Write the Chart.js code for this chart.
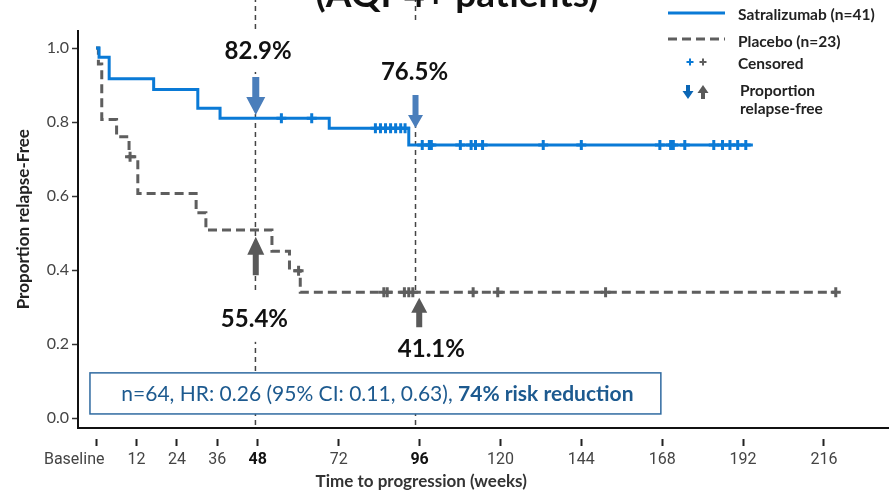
<!DOCTYPE html>
<html>
<head>
<meta charset="utf-8">
<script src="https://cdn.jsdelivr.net/npm/chart.js@4.4.0/dist/chart.umd.min.js"></script>
<style>
  body { margin: 0; background: #fff; }
  #wrap { width: 896px; height: 494px; }
</style>
</head>
<body>
<div id="wrap"><canvas id="km"></canvas></div>
<script>
// Kaplan-Meier steps: week of each drop, proportion after it
var satraWeeks = [0, 0.9, 3.9, 17.1, 30.2, 36.8, 69.2, 92.8, 194.9];
var satraSurv  = [1.0, 0.975, 0.917, 0.888, 0.837, 0.81, 0.783, 0.738, 0.738];
var placeboWeeks = [0, 0.7, 1.7, 6.1, 9.8, 12.4, 29.7, 32.6, 52.2, 57.4, 60.6, 219.5];
var placeboSurv  = [1.0, 0.957, 0.807, 0.76, 0.706, 0.607, 0.555, 0.508, 0.451, 0.398, 0.34, 0.34];

// censored patients (weeks)
var satraCensored = [55, 64, 82.9, 84.4, 85.9, 87.4, 88.9, 90.4, 91.7, 96.8, 98.9, 99.5,
  108.1, 111.3, 112.6, 114.7, 132.7, 144, 167.3, 170.5, 171.3, 174.7, 183.3, 185.9, 188.1, 190.4, 192.8];
var placeboCensored = [10.1, 60.1, 85.4, 86.4, 91.5, 92.8, 94.0, 111.9, 119.2, 151.2, 219.5];

var refWeeks = [47.3, 94.8];
var xTicks = [0, 12, 24, 36, 48, 72, 96, 120, 144, 168, 192, 216];
var yTicks = [0, 0.2, 0.4, 0.6, 0.8, 1.0];

var pctLabels = ['82.9%', '76.5%', '55.4%', '41.1%'];

var BLUE = '#0a7ad6';
var GREY = '#5e5e5e';
var ARROW_BLUE = '#4a7ebb';
var ARROW_GREY = '#595959';

function toPoints(xs, ys) {
  return xs.map(function (x, i) { return { x: x, y: ys[i] }; });
}

// value of the step curve at week t
function survAt(weeks, surv, t) {
  var v = surv[0];
  for (var i = 0; i < weeks.length; i++) {
    if (weeks[i] <= t) v = surv[i];
  }
  return v;
}

function censorPoints(times, weeks, surv) {
  return times.map(function (t) { return { x: t, y: survAt(weeks, surv, t) }; });
}

function refLine(w) {
  return {
    data: [{ x: w, y: -0.019 }, { x: w, y: 1.15 }],
    showLine: true, borderColor: '#444', borderWidth: 1.5, borderDash: [5, 4],
    pointRadius: 0, clip: false
  };
}

// annotations in data coordinates
var labels = [
  { text: pctLabels[0], x: 48.1, y: 0.992, padTop: 10, padBottom: 12 },
  { text: pctLabels[1], x: 94.5, y: 0.934, padTop: 43, padBottom: 14 },
  { text: pctLabels[2], x: 47.0, y: 0.268, padTop: 16, padBottom: 14 },
  { text: pctLabels[3], x: 99.5, y: 0.186, padTop: 50, padBottom: 18 }
];
var arrows = [
  { x: 47.4, from: 0.922, to: 0.819, color: ARROW_BLUE, shaft: 7, head: 19, headLen: 18 },
  { x: 94.8, from: 0.873, to: 0.784, color: ARROW_BLUE, shaft: 6, head: 15, headLen: 13 },
  { x: 47.4, from: 0.386, to: 0.49, color: ARROW_GREY, shaft: 6, head: 17, headLen: 18 },
  { x: 95.9, from: 0.245, to: 0.325, color: ARROW_GREY, shaft: 6, head: 16, headLen: 15 }
];

function drawArrow(ctx, x, y0, y1, shaft, head, headLen, color) {
  var dir = y1 > y0 ? 1 : -1;
  var yb = y1 - dir * headLen;
  ctx.fillStyle = color;
  ctx.beginPath();
  ctx.moveTo(x - shaft / 2, y0);
  ctx.lineTo(x + shaft / 2, y0);
  ctx.lineTo(x + shaft / 2, yb);
  ctx.lineTo(x + head / 2, yb);
  ctx.lineTo(x, y1);
  ctx.lineTo(x - head / 2, yb);
  ctx.lineTo(x - shaft / 2, yb);
  ctx.closePath();
  ctx.fill();
}

function drawPlus(ctx, x, y, r, w, color) {
  ctx.strokeStyle = color;
  ctx.lineWidth = w;
  ctx.beginPath();
  ctx.moveTo(x - r, y); ctx.lineTo(x + r, y);
  ctx.moveTo(x, y - r); ctx.lineTo(x, y + r);
  ctx.stroke();
}

var LABEL_FONT = 'bold 24px Lato';

var overlay = {
  id: 'overlay',
  // white patches go over the dashed reference lines but under the curves
  afterDatasetDraw: function (chart, args) {
    if (args.index !== 4) return;
    var ctx = chart.ctx, xs = chart.scales.x, ys = chart.scales.y;
    ctx.save();
    ctx.font = LABEL_FONT;
    ctx.fillStyle = '#fff';
    labels.forEach(function (l) {
      var px = xs.getPixelForValue(l.x), py = ys.getPixelForValue(l.y);
      var w = ctx.measureText(l.text).width;
      ctx.fillRect(px - w / 2 - 4, py - 9 - l.padTop, w + 8, 18 + l.padTop + l.padBottom);
    });
    ctx.restore();
  },
  afterDatasetsDraw: function (chart) {
    var ctx = chart.ctx, xs = chart.scales.x, ys = chart.scales.y;
    ctx.save();

    // cut-off heading at the very top
    ctx.fillStyle = '#111';
    ctx.font = 'bold 37px Lato';
    ctx.textAlign = 'center';
    ctx.textBaseline = 'alphabetic';
    ctx.fillText('(AQP4+ patients)', 457, 7);

    ctx.font = LABEL_FONT;
    ctx.textBaseline = 'middle';
    ctx.fillStyle = '#111';
    labels.forEach(function (l) {
      ctx.fillText(l.text, xs.getPixelForValue(l.x), ys.getPixelForValue(l.y));
    });

    arrows.forEach(function (a) {
      drawArrow(ctx, xs.getPixelForValue(a.x), ys.getPixelForValue(a.from), ys.getPixelForValue(a.to),
        a.shaft, a.head, a.headLen, a.color);
    });

    // hazard-ratio box
    var bx0 = xs.getPixelForValue(-1.8), bx1 = xs.getPixelForValue(167.6);
    var by0 = ys.getPixelForValue(0.122), by1 = ys.getPixelForValue(0.011);
    ctx.fillStyle = '#fff';
    ctx.fillRect(bx0, by0, bx1 - bx0, by1 - by0);
    ctx.strokeStyle = '#2f6aa0';
    ctx.lineWidth = 1.5;
    ctx.strokeRect(bx0, by0, bx1 - bx0, by1 - by0);
    var t1 = 'n=64, HR: 0.26 (95% CI: 0.11, 0.63), ';
    var t2 = '74% risk reduction';
    ctx.font = '21px Lato';
    var w1 = ctx.measureText(t1).width;
    ctx.font = 'bold 21px Lato';
    var w2 = ctx.measureText(t2).width;
    var sx = (bx0 + bx1) / 2 - (w1 + w2) / 2 + 2, sy = (by0 + by1) / 2 + 1;
    ctx.textAlign = 'left';
    ctx.fillStyle = '#1d5a8f';
    ctx.font = '21px Lato';
    ctx.fillText(t1, sx, sy);
    ctx.font = 'bold 21px Lato';
    ctx.fillText(t2, sx + w1, sy);

    // x axis title
    ctx.fillStyle = '#333';
    ctx.font = 'bold 17px Lato';
    ctx.textAlign = 'center';
    ctx.fillText('Time to progression (weeks)', xs.getPixelForValue(96.5), 482);

    // legend
    ctx.lineWidth = 3;
    ctx.strokeStyle = BLUE;
    ctx.beginPath(); ctx.moveTo(668, 13); ctx.lineTo(725, 13); ctx.stroke();
    ctx.strokeStyle = GREY;
    ctx.setLineDash([9, 5]);
    ctx.beginPath(); ctx.moveTo(668, 39); ctx.lineTo(725, 39); ctx.stroke();
    ctx.setLineDash([]);
    drawPlus(ctx, 690, 62, 3.5, 2, BLUE);
    drawPlus(ctx, 703, 62, 3.5, 2, GREY);
    drawArrow(ctx, 688, 85, 99, 4, 11, 8, '#0a66b5');
    drawArrow(ctx, 703, 99, 85, 4, 11, 8, ARROW_GREY);
    ctx.fillStyle = '#222';
    ctx.font = 'bold 15.5px Lato';
    ctx.textAlign = 'left';
    ctx.fillText('Satralizumab (n=41)', 738, 15);
    ctx.fillText('Placebo (n=23)', 738, 42);
    ctx.fillText('Censored', 738, 64);
    ctx.fillText('Proportion', 740, 91);
    ctx.fillText('relapse-free', 740, 109);

    ctx.restore();
  }
};

new Chart(document.getElementById('km').getContext('2d'), {
  type: 'scatter',
  data: {
    datasets: [
      {
        label: 'Satralizumab (n=41)', data: toPoints(satraWeeks, satraSurv),
        showLine: true, stepped: 'before', borderColor: BLUE, borderWidth: 3, pointRadius: 0
      },
      {
        label: 'Placebo (n=23)', data: toPoints(placeboWeeks, placeboSurv),
        showLine: true, stepped: 'before', borderColor: GREY, borderWidth: 3, borderDash: [9, 5], pointRadius: 0
      },
      {
        label: 'Censored satralizumab', data: censorPoints(satraCensored, satraWeeks, satraSurv),
        pointStyle: 'cross', pointRadius: 5, borderWidth: 3, borderColor: BLUE, backgroundColor: BLUE
      },
      {
        label: 'Censored placebo', data: censorPoints(placeboCensored, placeboWeeks, placeboSurv),
        pointStyle: 'cross', pointRadius: 5, borderWidth: 3, borderColor: GREY, backgroundColor: GREY
      },
      refLine(refWeeks[0]),
      refLine(refWeeks[1])
    ]
  },
  options: {
    responsive: true,
    maintainAspectRatio: false,
    devicePixelRatio: 1,
    animation: false,
    events: [],
    layout: { padding: { top: 31, left: 0, right: 0, bottom: 0 } },
    plugins: { legend: { display: false }, tooltip: { enabled: false } },
    scales: {
      x: {
        type: 'linear', min: -5.35, max: 235.0,
        afterBuildTicks: function (s) { s.ticks = xTicks.map(function (v) { return { value: v }; }); },
        afterFit: function (s) { s.height = 66; s.paddingLeft = 0; s.paddingRight = 0; },
        border: { display: true, color: '#111', width: 2 },
        grid: {
          drawOnChartArea: false, drawTicks: true, tickLength: 19, tickWidth: 2,
          tickColor: '#222', tickBorderDash: [0, 10, 7, 40]
        },
        ticks: {
          padding: 3, maxRotation: 0, minRotation: 0, autoSkip: false,
          color: function (c) { return (c.tick.value === 48 || c.tick.value === 96) ? '#111' : '#444'; },
          font: function (c) {
            var b = c.tick && (c.tick.value === 48 || c.tick.value === 96);
            return { family: 'Roboto', size: 16, weight: b ? 'bold' : 'normal' };
          },
          // trailing spaces push "Baseline" left of its tick, as in the source
          callback: function (v) { return v === 0 ? 'Baseline\u00a0\u00a0\u00a0\u00a0\u00a0\u00a0\u00a0\u00a0\u00a0\u00a0\u00a0' : String(v); }
        }
      },
      y: {
        min: -0.027, max: 1.046,
        afterBuildTicks: function (s) { s.ticks = yTicks.map(function (v) { return { value: v }; }); },
        afterFit: function (s) { s.width = 78; },
        border: { display: true, color: '#111', width: 2 },
        grid: { drawOnChartArea: false, drawTicks: true, tickLength: 6, tickWidth: 1.5, tickColor: '#333' },
        ticks: {
          padding: 3, color: '#444', font: { family: 'Lato', size: 16 },
          callback: function (v) { return Number(v).toFixed(1); }
        },
        title: {
          display: true, color: '#222',
          // leading spaces lift the rotated title a little, as in the source
          text: '\u00a0\u00a0\u00a0\u00a0\u00a0Proportion relapse-Free',
          font: { family: 'Lato', size: 17, weight: 'bold' }, padding: { top: 13, bottom: 0 }
        }
      }
    }
  },
  plugins: [overlay]
});
</script>
</body>
</html>
